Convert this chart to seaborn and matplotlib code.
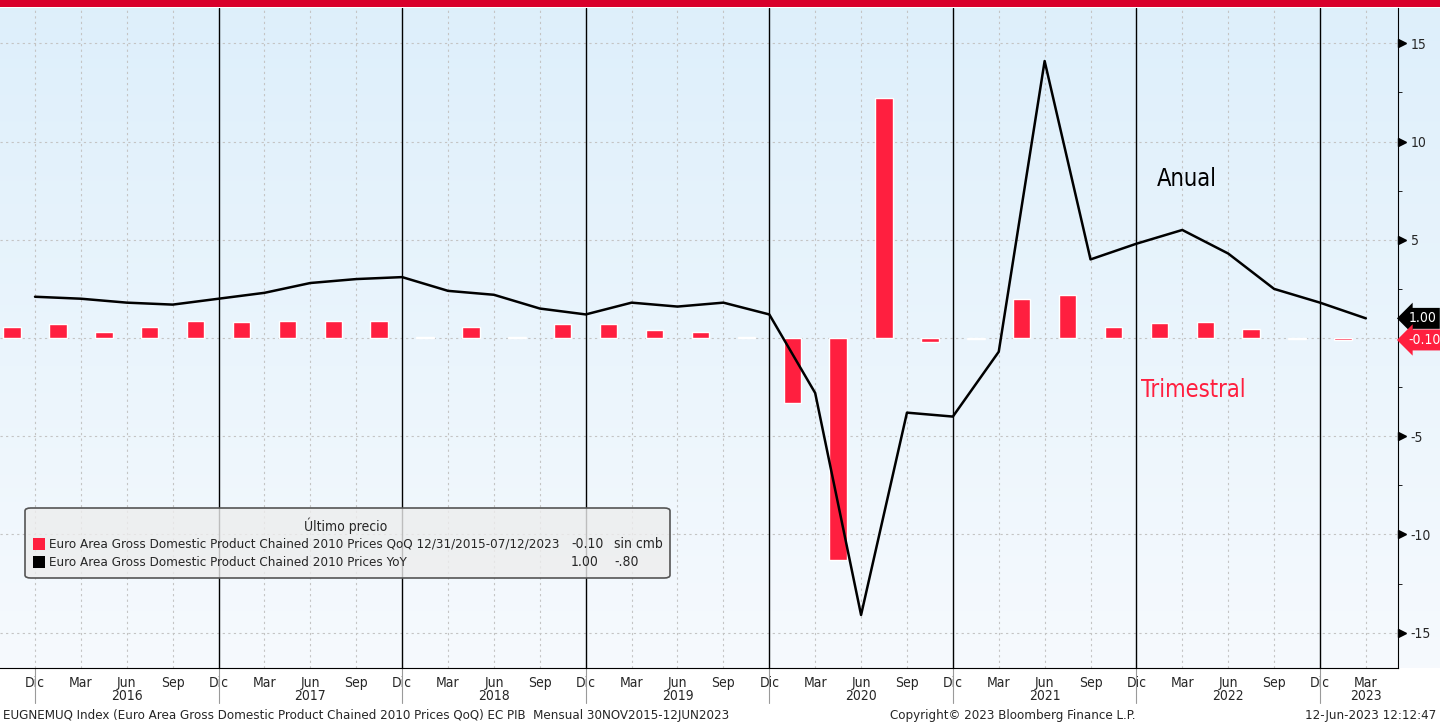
import numpy as np
import matplotlib
matplotlib.use('Agg')
import matplotlib.pyplot as plt
import matplotlib.transforms as mtransforms
from matplotlib.patches import FancyBboxPatch, Rectangle
import seaborn as sns

# --- data (quarterly, Dic 2015 .. Mar 2023) ---
quarters = ['Dic', 'Mar', 'Jun', 'Sep'] * 7 + ['Dic', 'Mar']
years = ['2016', '2017', '2018', '2019', '2020', '2021', '2022', '2023']

# YoY line (Anual)
yoy = [2.1, 2.0, 1.8, 1.7, 2.0, 2.3, 2.8, 3.0, 3.1, 2.4, 2.2, 1.5,
       1.2, 1.8, 1.6, 1.8, 1.2, -2.8, -14.1, -3.8, -4.0, -0.7, 14.1,
       4.0, 4.8, 5.5, 4.3, 2.5, 1.8, 1.0]
# QoQ bars (Trimestral)
qoq = [0.55, 0.7, 0.3, 0.55, 0.85, 0.8, 0.85, 0.85, 0.85, 0.05, 0.55, 0.05,
       0.7, 0.7, 0.4, 0.3, 0.05, -3.3, -11.3, 12.2, -0.2, -0.05, 2.0, 2.2,
       0.55, 0.75, 0.8, 0.45, -0.05, -0.1]

legend_rows = ['Euro Area Gross Domestic Product Chained 2010 Prices QoQ 12/31/2015-07/12/2023',
               'Euro Area Gross Domestic Product Chained 2010 Prices YoY']

RED = '#ff1f3f'

sns.set_style('white')
plt.rcParams['font.family'] = ['DejaVu Sans']
plt.rcParams['font.stretch'] = 'condensed'

W, H = 1440, 725
fig = plt.figure(figsize=(14.4, 7.25), dpi=100, facecolor='white')

ax_bottom = 1 - 668 / H
ax_height = 660 / H

# gradient background behind the plot area (and the right label strip)
bg = fig.add_axes([0, ax_bottom, 1, ax_height], zorder=-1)
grad = np.linspace(0, 1, 256).reshape(-1, 1)
top_c = np.array([0.870, 0.938, 0.984])
bot_c = np.array([0.965, 0.980, 0.995])
img = top_c[None, None, :] * (1 - grad[:, :, None]) + bot_c[None, None, :] * grad[:, :, None]
bg.imshow(img, aspect='auto', extent=[0, 1, 0, 1])
bg.axis('off')

ax = fig.add_axes([0, ax_bottom, 1398 / W, ax_height])
ax.set_facecolor('none')

idx = np.arange(len(yoy))
bar_x = idx - 0.5

# gridlines
year_lines = [i for i in idx if quarters[i] == 'Dic' and i > 0]
for i in idx:
    if i not in year_lines:
        ax.axvline(i, color='#c4c4c4', lw=0.8, ls=(0, (2, 3)), zorder=0)
for y in range(-15, 16, 5):
    ax.axhline(y, color='#c4c4c4', lw=0.8, ls=(0, (2, 3)), zorder=0)
for i in year_lines:
    ax.axvline(i, color='black', lw=1, zorder=1)

sns.barplot(x=bar_x, y=qoq, native_scale=True, orient='x', width=0.38,
            color=RED, saturation=1, errorbar=None, ax=ax, zorder=2)
sns.lineplot(x=idx, y=yoy, color='black', lw=1.8, ax=ax, zorder=3)

ax.set_xlim(-0.763, 29.70)
ax.set_ylim(-16.8, 16.8)
ax.set_xlabel('')
ax.set_ylabel('')

for s in ['left', 'top']:
    ax.spines[s].set_visible(False)
ax.spines['right'].set_color('black')
ax.spines['bottom'].set_color('black')

# x axis
ax.set_xticks(idx)
ax.set_xticklabels(quarters, fontsize=10)
ax.set_xticks(np.concatenate([idx - 1 / 3, idx + 1 / 3]), minor=True)
ax.tick_params(axis='x', which='major', length=4, color='black', pad=2)
ax.tick_params(axis='x', which='minor', length=3, color='black')

xtrans = mtransforms.blended_transform_factory(ax.transData, ax.transAxes)
dics = [i for i in idx if quarters[i] == 'Dic']
for i in dics:
    ax.plot([i, i], [0, -0.053], transform=xtrans, color='#9a9a9a', lw=0.8, clip_on=False)
for k, yr in enumerate(years):
    if k < len(dics) - 1:
        c = (dics[k] + dics[k + 1]) / 2
    else:
        c = idx[-1]
    ax.text(c, -0.043, yr, transform=xtrans, ha='center', va='center', fontsize=10)

# right y axis
ax.yaxis.tick_right()
yt = [-15, -10, -5, 5, 10, 15]
ax.set_yticks(yt)
ax.set_yticklabels([str(v) for v in yt], fontsize=10)
ax.set_yticks([-12.5, -7.5, -2.5, 2.5, 7.5, 12.5], minor=True)
ax.tick_params(axis='y', which='major', length=0, pad=9)
ax.tick_params(axis='y', which='minor', length=3, color='black')
ytrans = mtransforms.blended_transform_factory(ax.transAxes, ax.transData)
tri = mtransforms.offset_copy(ytrans, fig=fig, x=4, y=0, units='dots')
ax.plot([1.0] * len(yt), yt, transform=tri, marker='>', ms=6, color='black',
        ls='none', clip_on=False)

# last-price tags
for val, txt, col in [(yoy[-1], '1.00', 'black'), (qoq[-1], '-0.10', RED)]:
    ax.annotate(txt, xy=(1.0, val), xycoords=ytrans, xytext=(7.5, 0),
                textcoords='offset points', ha='left', va='center', fontsize=10,
                color='white', annotation_clip=False,
                bbox=dict(boxstyle='larrow,pad=0.25', fc=col, ec='none'))

# series labels
ax.text(25.1, 8.1, 'Anual', fontsize=17, color='black', ha='center', va='center')
ax.text(25.23, -2.65, 'Trimestral', fontsize=17, color=RED, ha='center', va='center')

# legend box
fig.add_artist(FancyBboxPatch((25 / W, 1 - 578 / H), 645 / W, 70 / H,
                              boxstyle='round,pad=0,rounding_size=0.004',
                              transform=fig.transFigure, fc=(0.93, 0.93, 0.93, 0.8),
                              ec='#555555', lw=1.2, zorder=5))
fig.text(346 / W, 1 - 526 / H, 'Último precio', ha='center', va='center', fontsize=10, zorder=6)
for k, (lab, col) in enumerate(zip(legend_rows, [RED, 'black'])):
    yy = 1 - (544 + 18 * k) / H
    fig.add_artist(Rectangle((33 / W, yy - 6 / H), 12 / W, 12 / H, transform=fig.transFigure,
                             fc=col, ec='none', zorder=6))
    fig.text(49 / W, yy, lab, ha='left', va='center', fontsize=9.6, zorder=6)
fig.text(571 / W, 1 - 544 / H, '-0.10', ha='left', va='center', fontsize=10, zorder=6)
fig.text(614 / W, 1 - 544 / H, 'sin cmb', ha='left', va='center', fontsize=10, zorder=6)
fig.text(571 / W, 1 - 562 / H, '1.00', ha='left', va='center', fontsize=10, zorder=6)
fig.text(614 / W, 1 - 562 / H, '-.80', ha='left', va='center', fontsize=10, zorder=6)

# top red band
fig.add_artist(Rectangle((0, 1 - 7 / H), 1, 7 / H, transform=fig.transFigure,
                         fc='#d9002b', ec='none'))

# footer
fig.text(3 / W, 1 - 716 / H,
         'EUGNEMUQ Index (Euro Area Gross Domestic Product Chained 2010 Prices QoQ) EC PIB  Mensual 30NOV2015-12JUN2023',
         ha='left', va='center', fontsize=9.5)
fig.text(1013 / W, 1 - 716 / H, 'Copyright© 2023 Bloomberg Finance L.P.',
         ha='center', va='center', fontsize=9.5)
fig.text(1436 / W, 1 - 716 / H, '12-Jun-2023 12:12:47', ha='right', va='center', fontsize=9.5)

fig.savefig('out.png', dpi=100, facecolor='white')
